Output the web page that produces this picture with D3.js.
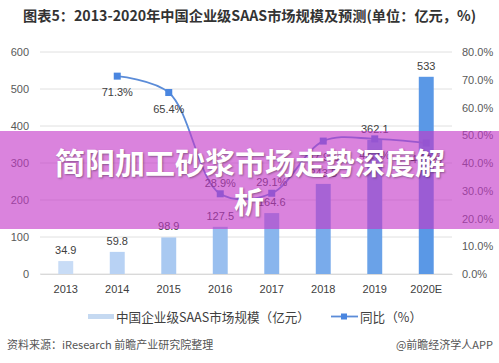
<!DOCTYPE html>
<html><head><meta charset="utf-8">
<script src="https://cdn.jsdelivr.net/npm/d3@7"></script>
<style>
body{margin:0;background:#fff;}
svg{display:block;font-family:"Microsoft YaHei","Noto Sans CJK SC",sans-serif;}
</style></head>
<body><svg id="c" width="499" height="363"></svg>
<script>
const categories = ["2013","2014","2015","2016","2017","2018","2019","2020E"];
const marketSize = [34.9, 59.8, 98.9, 127.5, 164.6, 243.5, 362.1, 533];
const growth = [null, 71.3, 65.4, 28.9, 29.1, 47.9, 48.7, 47.2];
const leftTicks = [0,100,200,300,400,500,600];
const rightTicks = [0,10,20,30,40,50,60,70,80];
const growthLabelPos = [null,"below","below","above","above","below","below","below"];

const svg = d3.select("#c");
const W = 499, H = 363;
const m = {l:40, r:47, t:52, b:89};
const x = d3.scaleBand().domain(categories).range([m.l, W-m.r]).paddingInner(0.71).paddingOuter(0.355);
const y = d3.scaleLinear().domain([0,600]).range([274, 52]);
const y2 = d3.scaleLinear().domain([0,80]).range([274, 52]);
const colorScale = d3.scaleLinear().domain([0, categories.length-1]).range(["#c8dcf6","#5a98e6"]);

// title
svg.append("text").attr("x", 23).attr("y", 21).attr("font-size", 14).attr("font-weight","bold")
  .attr("fill","#333").attr("textLength",453).attr("lengthAdjust","spacingAndGlyphs")
  .text("图表5：2013-2020年中国企业级SAAS市场规模及预测(单位：亿元，%)");

// grid
svg.append("g").selectAll("line").data(leftTicks).join("line")
  .attr("x1", m.l).attr("x2", W-m.r).attr("y1", d=>y(d)).attr("y2", d=>y(d))
  .attr("stroke", "#e0e0e0").attr("stroke-width",1);

// left axis
const la = svg.append("g").attr("transform",`translate(${m.l},0)`).call(d3.axisLeft(y).tickValues(leftTicks).tickSize(0).tickPadding(11));
la.select(".domain").remove();
la.selectAll("text").attr("font-size",11).attr("fill","#595959").attr("font-family","Arial,'Liberation Sans',sans-serif");

// right axis
const ra = svg.append("g").attr("transform",`translate(${W-m.r},0)`).call(d3.axisRight(y2).tickValues(rightTicks).tickSize(0).tickPadding(10).tickFormat(d=>d.toFixed(1)+"%"));
ra.select(".domain").remove();
ra.selectAll("text").attr("font-size",11).attr("fill","#595959").attr("font-family","Arial,'Liberation Sans',sans-serif");

// x axis
const xa = svg.append("g").attr("transform",`translate(0,274)`).call(d3.axisBottom(x).tickSize(0).tickPadding(11));
xa.select(".domain").attr("stroke","#d9d9d9");
xa.selectAll("text").attr("font-size",11).attr("fill","#404040").attr("font-family","Arial,'Liberation Sans',sans-serif");

// bars
svg.append("g").selectAll("rect").data(marketSize).join("rect")
  .attr("x",(d,i)=>x(categories[i])).attr("width",x.bandwidth())
  .attr("y",d=>y(d)).attr("height",d=>y(0)-y(d))
  .attr("fill",(d,i)=>colorScale(i));
svg.append("g").selectAll("text").data(marketSize).join("text")
  .attr("x",(d,i)=>x(categories[i])+x.bandwidth()/2).attr("y",d=>y(d)-7)
  .attr("text-anchor","middle").attr("font-size",11).attr("fill","#404040")
  .attr("font-family","Arial,'Liberation Sans',sans-serif").text(d=>d);

// line
const pts = growth.map((g,i)=>({c:categories[i], g, pos:growthLabelPos[i]})).filter(d=>d.g!==null);
const line = d3.line().x(d=>x(d.c)+x.bandwidth()/2).y(d=>y2(d.g)).curve(d3.curveCatmullRom.alpha(0.5));
svg.append("path").datum(pts).attr("d",line).attr("fill","none").attr("stroke","#5b8cd8").attr("stroke-width",1.8);
svg.append("g").selectAll("rect").data(pts).join("rect")
  .attr("x",d=>x(d.c)+x.bandwidth()/2-3.5).attr("y",d=>y2(d.g)-3.5)
  .attr("width",7).attr("height",7).attr("fill","#4a86e0");
svg.append("g").selectAll("text").data(pts).join("text")
  .attr("x",d=>x(d.c)+x.bandwidth()/2).attr("y",d=>d.pos==="below"? y2(d.g)+20 : y2(d.g)-7)
  .attr("text-anchor","middle").attr("font-size",11).attr("fill","#404040")
  .attr("font-family","Arial,'Liberation Sans',sans-serif").text(d=>d.g.toFixed(1)+"%");

// legend
const lg = svg.append("g");
lg.append("rect").attr("x",88).attr("y",314).attr("width",26).attr("height",5).attr("fill","#c5d9f1");
lg.append("text").attr("x",116).attr("y",321.5).attr("font-size",12.6).attr("fill","#404040").text("中国企业级SAAS市场规模（亿元）");
lg.append("line").attr("x1",331).attr("x2",358).attr("y1",316.5).attr("y2",316.5).attr("stroke","#5b8cd8").attr("stroke-width",1.8);
lg.append("rect").attr("x",341).attr("y",313.5).attr("width",6).attr("height",6).attr("fill","#4a86e0");
lg.append("text").attr("x",360).attr("y",321.5).attr("font-size",12.6).attr("fill","#404040").text("同比（%）");

// source
svg.append("text").attr("x",7).attr("y",349).attr("font-size",11).attr("fill","#555").text("资料来源：iResearch 前瞻产业研究院整理");
svg.append("text").attr("x",493).attr("y",349).attr("text-anchor","end").attr("font-size",11).attr("fill","#555").text("@前瞻经济学人APP");

// overlay band
svg.append("rect").attr("x",0).attr("y",131).attr("width",W).attr("height",98).attr("fill","rgba(195,55,200,0.62)");
const tt = svg.append("g").attr("font-size",30).attr("font-weight","bold").attr("fill","#fff")
  .attr("text-anchor","middle").style("font-family","'Noto Sans CJK SC',sans-serif")
  .style("text-shadow","1px 1px 2px rgba(0,0,0,0.35)");
tt.append("text").attr("x",250).attr("y",174).text("简阳加工砂浆市场走势深度解");
tt.append("text").attr("x",249).attr("y",213).text("析");
</script></body></html>
